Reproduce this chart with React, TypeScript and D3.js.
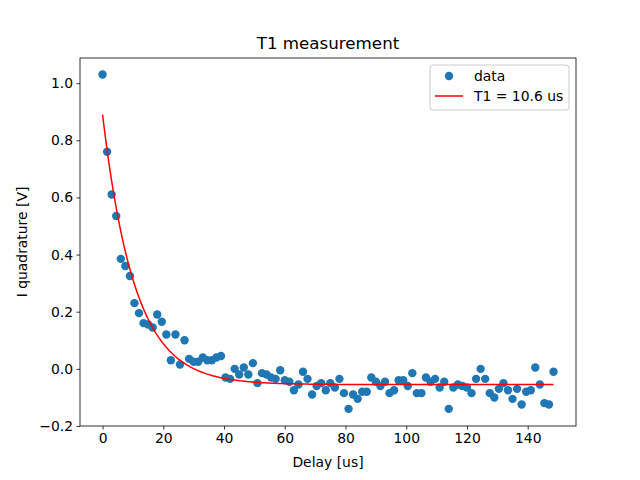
import React, { useRef, useEffect } from 'react';
import * as d3 from 'd3';

const delays: number[] = d3.range(100).map(i => i * 1.5);
const iQuad: number[] = [
  1.03, 0.76, 0.61, 0.535, 0.385, 0.36, 0.325, 0.23, 0.195, 0.16,
  0.155, 0.145, 0.19, 0.165, 0.12, 0.03, 0.12, 0.015, 0.10, 0.035,
  0.025, 0.025, 0.04, 0.03, 0.03, 0.04, 0.045, -0.03, -0.035, 0.0,
  -0.02, 0.005, -0.02, 0.02, -0.05, -0.015, -0.02, -0.03, -0.035, -0.005,
  -0.04, -0.045, -0.075, -0.055, -0.01, -0.035, -0.09, -0.06, -0.05, -0.075,
  -0.05, -0.065, -0.035, -0.085, -0.14, -0.09, -0.105, -0.08, -0.08, -0.03,
  -0.045, -0.06, -0.045, -0.085, -0.075, -0.04, -0.04, -0.06, -0.015, -0.085,
  -0.085, -0.03, -0.045, -0.035, -0.065, -0.045, -0.14, -0.065, -0.055, -0.06,
  -0.065, -0.085, -0.035, 0.0, -0.035, -0.085, -0.1, -0.07, -0.05, -0.075,
  -0.105, -0.07, -0.125, -0.08, -0.075, 0.005, -0.055, -0.12, -0.125, -0.01,
];
// fitted model: A * exp(-t / T1) + C
const fitA = 0.945;
const fitT1 = 10.6;
const fitC = -0.055;
const xTicks = [0, 20, 40, 60, 80, 100, 120, 140];
const yTicks = [-0.2, 0.0, 0.2, 0.4, 0.6, 0.8, 1.0];

const W = 640, H = 480;
const m = { left: 80, right: 576, top: 58, bottom: 426 };

const App: React.FC = () => {
  const ref = useRef<SVGSVGElement>(null);

  useEffect(() => {
    if (!ref.current) return;
    const svg = d3.select(ref.current);
    svg.selectAll('*').remove();
    svg.style('font-family', '"DejaVu Sans", sans-serif');

    const x = d3.scaleLinear().domain([-7.43, 155.9]).range([m.left, m.right]);
    const y = d3.scaleLinear().domain([-0.2, 1.088]).range([m.bottom, m.top]);

    svg.append('rect').attr('width', W).attr('height', H).attr('fill', 'white');

    const xAxis = svg.append('g').attr('transform', `translate(0,${m.bottom})`)
      .call(d3.axisBottom(x).tickValues(xTicks).tickSize(3.5).tickPadding(3.5).tickFormat(d3.format('d')));
    const yAxis = svg.append('g').attr('transform', `translate(${m.left},0)`)
      .call(d3.axisLeft(y).tickValues(yTicks).tickSize(3.5).tickPadding(3.5).tickFormat(d3.format('.1f')));
    [xAxis, yAxis].forEach(a => {
      a.select('.domain').remove();
      a.selectAll('text').attr('font-size', 13.9).attr('fill', 'black').attr('font-family', '"DejaVu Sans", sans-serif');
      a.selectAll('line').attr('stroke', 'black').attr('stroke-width', 0.8);
    });

    // fit curve
    const tFit = d3.range(0, 148.5 + 0.01, 0.5);
    const line = d3.line<number>().x(t => x(t)).y(t => y(fitA * Math.exp(-t / fitT1) + fitC));

    svg.append('g').selectAll('circle').data(delays).enter().append('circle')
      .attr('cx', (d) => x(d)).attr('cy', (_, i) => y(iQuad[i])).attr('r', 4.2)
      .attr('fill', '#1f77b4');

    svg.append('path').datum(tFit).attr('d', line).attr('fill', 'none')
      .attr('stroke', 'red').attr('stroke-width', 1.5);

    svg.append('rect').attr('x', m.left).attr('y', m.top)
      .attr('width', m.right - m.left).attr('height', m.bottom - m.top)
      .attr('fill', 'none').attr('stroke', 'black').attr('stroke-width', 0.8);

    svg.append('text').attr('x', (m.left + m.right) / 2).attr('y', 49)
      .attr('text-anchor', 'middle').attr('font-size', 16.7).text('T1 measurement');
    svg.append('text').attr('x', (m.left + m.right) / 2).attr('y', 467)
      .attr('text-anchor', 'middle').attr('font-size', 13.9).text('Delay [us]');
    svg.append('text').attr('transform', `translate(27,${(m.top + m.bottom) / 2}) rotate(-90)`)
      .attr('text-anchor', 'middle').attr('font-size', 13.9).text('I quadrature [V]');

    // legend
    const lg = svg.append('g').attr('transform', 'translate(430,65)');
    lg.append('rect').attr('width', 139).attr('height', 45).attr('rx', 3)
      .attr('fill', 'white').attr('fill-opacity', 0.8).attr('stroke', '#cccccc');
    lg.append('circle').attr('cx', 19).attr('cy', 11).attr('r', 4.2).attr('fill', '#1f77b4');
    lg.append('line').attr('x1', 5).attr('x2', 33).attr('y1', 31).attr('y2', 31)
      .attr('stroke', 'red').attr('stroke-width', 1.5);
    lg.append('text').attr('x', 44).attr('y', 16).attr('font-size', 13.9).text('data');
    lg.append('text').attr('x', 44).attr('y', 36).attr('font-size', 13.9).text(`T1 = ${fitT1} us`);
  }, []);

  return <svg ref={ref} width={W} height={H} style={{ position: 'absolute', left: 0, top: 0 }} />;
};

export default App;
